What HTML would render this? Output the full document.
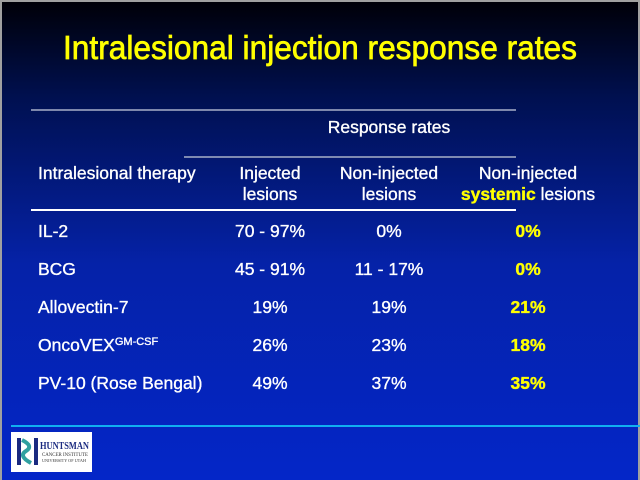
<!DOCTYPE html>
<html><head><meta charset="utf-8"><style>
html,body{margin:0;padding:0;background:#999;}
svg{display:block;font-family:"Liberation Sans",sans-serif;}
</style></head><body>
<svg width="640" height="480" viewBox="0 0 640 480">
<defs><linearGradient id="bg" x1="0" y1="0" x2="0" y2="1">
<stop offset="0" stop-color="#000008"/><stop offset="0.2" stop-color="#001050"/><stop offset="0.55" stop-color="#0522a8"/><stop offset="1" stop-color="#0426c8"/></linearGradient></defs>
<rect x="0" y="0" width="640" height="480" fill="#a0a0a0"/>
<rect x="2" y="2" width="636" height="478" fill="url(#bg)"/>
<text x="320" y="59" text-anchor="middle" font-size="33" fill="#ffff00" stroke="#ffff00" stroke-width="0.7" textLength="514" lengthAdjust="spacingAndGlyphs">Intralesional injection response rates</text>
<line x1="31" y1="110" x2="516" y2="110" stroke="#a8b0c8" stroke-width="1.5"/>
<line x1="184" y1="157" x2="516" y2="157" stroke="#a8b0c8" stroke-width="1.5"/>
<line x1="31" y1="210" x2="516" y2="210" stroke="#ffffff" stroke-width="2"/>
<g fill="#ffffff" stroke="#ffffff" stroke-width="0.35" font-size="17.5">
<text x="389" y="133" text-anchor="middle">Response rates</text>
<text x="38" y="179">Intralesional therapy</text>
<text x="270" y="179" text-anchor="middle">Injected</text>
<text x="270" y="200" text-anchor="middle">lesions</text>
<text x="389" y="179" text-anchor="middle">Non-injected</text>
<text x="389" y="200" text-anchor="middle">lesions</text>
<text x="528" y="179" text-anchor="middle">Non-injected</text>
<text x="528" y="200" text-anchor="middle"><tspan fill="#ffff00" stroke="#ffff00" font-weight="bold">systemic</tspan> lesions</text>
</g>
<g id="rows" font-size="17.5" fill="#ffffff" stroke="#ffffff" stroke-width="0.35"></g>
<line x1="11" y1="426" x2="640" y2="426" stroke="#10b0f0" stroke-width="2"/>
<g>
<rect x="11" y="432" width="81" height="40" fill="#ffffff"/>
<rect x="17" y="438" width="4" height="27" fill="#1a2a80"/>
<rect x="34" y="438" width="4" height="27" fill="#1a2a80"/>
<path d="M22 440 Q34 446 26 451 Q18 456 31 463" stroke="#30a0a0" stroke-width="4" fill="none"/>
<text x="40" y="449" font-family="Liberation Serif,serif" font-size="10" font-weight="bold" fill="#1a2a80" textLength="49" lengthAdjust="spacingAndGlyphs">HUNTSMAN</text>
<text x="42" y="456" font-family="Liberation Serif,serif" font-size="5" fill="#333" textLength="46" lengthAdjust="spacingAndGlyphs">CANCER INSTITUTE</text>
<text x="42" y="462" font-family="Liberation Serif,serif" font-size="4" fill="#333" textLength="44" lengthAdjust="spacingAndGlyphs">UNIVERSITY OF UTAH</text>
</g>
</svg>
<script>
const therapies=["IL-2","BCG","Allovectin-7","OncoVEX","PV-10 (Rose Bengal)"];
const injected=["70 - 97%","45 - 91%","19%","26%","49%"];
const nonInjected=["0%","11 - 17%","19%","23%","37%"];
const systemic=["0%","0%","21%","18%","35%"];
const g=document.getElementById('rows');
const NS='http://www.w3.org/2000/svg';
function t(x,y,s,anchor,fill,bold){const e=document.createElementNS(NS,'text');e.setAttribute('x',x);e.setAttribute('y',y);if(anchor)e.setAttribute('text-anchor',anchor);if(fill){e.setAttribute('fill',fill);e.setAttribute('stroke',fill);}if(bold)e.setAttribute('font-weight','bold');e.textContent=s;g.appendChild(e);return e;}
therapies.forEach((name,i)=>{
 const y=237+i*38;
 const a=t(38,y,name);
 
 
 if(name==="OncoVEX"){const sp=document.createElementNS(NS,'tspan');sp.setAttribute('font-size','11');sp.setAttribute('dy','-6');sp.textContent='GM-CSF';a.appendChild(sp);}
 const b=t(270,y,injected[i],'middle');
 
 
 const c=t(389,y,nonInjected[i],'middle');
 
 
 const d=t(528,y,systemic[i],'middle','#ffff00',true);
 
 
});
</script>
</body></html>
